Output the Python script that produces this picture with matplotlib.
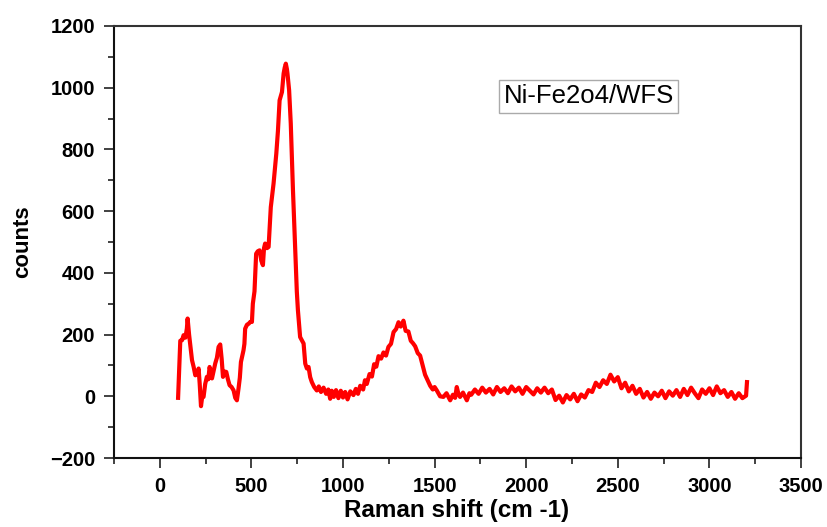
import matplotlib
matplotlib.use("Agg")
import matplotlib.pyplot as plt
from matplotlib.ticker import MultipleLocator

plt.rcParams['font.family'] = ['Liberation Sans', 'DejaVu Sans']

# Raman spectrum, values
shift = [
    100, 106, 112, 122, 130, 140, 148, 152, 160, 170, 176, 185, 194, 205, 212,
    218, 225, 232, 239, 248, 257, 265, 272, 278, 285, 295, 303, 312, 321, 330,
    338, 345, 355, 363, 372, 381, 392, 403, 412, 421, 430, 437, 443, 450, 457,
    462, 466, 476, 485, 494, 503, 508, 517, 526, 535, 545, 554, 563, 569, 575,
    585, 594, 606, 621, 636, 645, 654, 667, 676, 682, 688, 694, 697, 706, 715,
    727, 739, 748, 754, 766, 776, 785, 794, 803, 812, 821, 830, 843, 857, 868,
    880, 894, 908, 920, 930, 939, 950, 962, 975, 988, 1000, 1012, 1025, 1040,
    1057, 1070, 1082, 1094, 1110, 1120, 1130, 1145, 1158, 1170, 1182, 1194,
    1208, 1221, 1235, 1248, 1262, 1276, 1290, 1303, 1315, 1330, 1342, 1357,
    1370, 1382, 1394, 1408, 1421, 1435, 1448, 1462, 1476, 1490, 1500, 1512,
    1530, 1548, 1565, 1585, 1600, 1612, 1621, 1630, 1639, 1655, 1676, 1690,
    1700, 1720, 1740, 1760, 1780, 1800, 1820, 1840, 1860, 1880, 1900, 1920,
    1940, 1960, 1980, 2000, 2020, 2040, 2060, 2080, 2100, 2120, 2140, 2160,
    2180, 2200, 2220, 2240, 2260, 2280, 2300, 2320, 2340, 2360, 2380, 2400,
    2420, 2440, 2460, 2480, 2500, 2520, 2540, 2560, 2580, 2600, 2620, 2640,
    2660, 2680, 2700, 2720, 2740, 2760, 2780, 2800, 2820, 2840, 2860, 2880,
    2900, 2920, 2940, 2960, 2980, 3000, 3020, 3040, 3060, 3080, 3100, 3120,
    3140, 3160, 3180, 3200, 3205,
]
counts = [
    -5, 90, 180, 182, 198, 190, 220, 252, 200, 150, 117, 95, 68, 72, 90,
    40, -32, 0, -2, 40, 63, 55, 95, 80, 58, 85, 107, 125, 160, 168,
    120, 63, 80, 79, 55, 36, 30, 19, -5, -13, 26, 60, 111, 130, 149,
    170, 219, 232, 235, 241, 241, 300, 340, 462, 470, 473, 440, 425, 480, 495,
    480, 484, 613, 689, 786, 860, 959, 986, 1046, 1065, 1078, 1060, 1046, 992, 884,
    668, 484, 340, 279, 192, 181, 171, 106, 90, 95, 62, 46, 30, 19, 32,
    14, 28, 8, 22, -8, 18, -2, 20, -6, 18, -4, 14, -10, 16,
    4, 24, 8, 34, 22, 52, 40, 72, 64, 104, 96, 130,
    122, 142, 132, 160, 170, 208, 218, 240, 226, 245, 212, 210,
    180, 172, 162, 140, 132, 100, 70, 52, 34, 22, 30, 19,
    0, -2, 10, -13, 5, -5, 30, 8, -2, 12, -13, 10,
    5, 22, 8, 28, 12, 24, 6, 30, 14, 26, 10, 32,
    16, 28, 8, 30, 18, 6, 26, 12, 28, 10, 22, -12,
    2, -20, 4, -10, 8, -16, 6, -4, 20, 14, 44, 30,
    52, 40, 70, 48, 62, 26, 44, 16, 34, 8, 24, -4,
    14, -8, 12, 0, 18, -6, 16, 2, 20, -2, 24, 4,
    28, 10, -6, 22, 8, 26, 4, 32, 10, 20, -2, 14,
    -8, 10, -6, 2, 46,
]

label_text = "Ni-Fe2o4/WFS"

fig = plt.figure(figsize=(8.27, 5.27), dpi=100)
ax = fig.add_axes([0.1378, 0.1309, 0.8308, 0.8198])

ax.plot(shift, counts, color='#ff0000', linewidth=3.0, solid_joinstyle='round')

ax.set_xlim(-250, 3500)
ax.set_ylim(-200, 1200)
ax.xaxis.set_major_locator(MultipleLocator(500))
ax.xaxis.set_minor_locator(MultipleLocator(250))
ax.yaxis.set_major_locator(MultipleLocator(200))
ax.yaxis.set_minor_locator(MultipleLocator(100))

ax.tick_params(which='both', direction='out', top=False, right=False,
               width=1.3, color='#333333')
ax.tick_params(which='major', length=7.5, pad=6, labelsize=14.5)
ax.tick_params(which='minor', length=4)
for lab in ax.get_xticklabels() + ax.get_yticklabels():
    lab.set_fontweight('bold')

for side in ['left', 'bottom']:
    ax.spines[side].set_linewidth(1.5)
    ax.spines[side].set_color('#111111')
for side in ['top', 'right']:
    ax.spines[side].set_linewidth(1.5)
    ax.spines[side].set_color('#333333')

ax.set_xlabel("Raman shift (cm -1)", fontsize=17.5, fontweight='bold')
ax.set_ylabel("counts", fontsize=16, fontweight='bold')
ax.xaxis.set_label_coords(0.498, -0.094)
ax.yaxis.set_label_coords(-0.118, 0.5)

ax.text(0.691, 0.837, label_text, transform=ax.transAxes, fontsize=18.5,
        ha='center', va='center',
        bbox=dict(boxstyle='square,pad=0.18', facecolor='white',
                  edgecolor='#aaaaaa', linewidth=1))

fig.savefig("out.png", dpi=100)
